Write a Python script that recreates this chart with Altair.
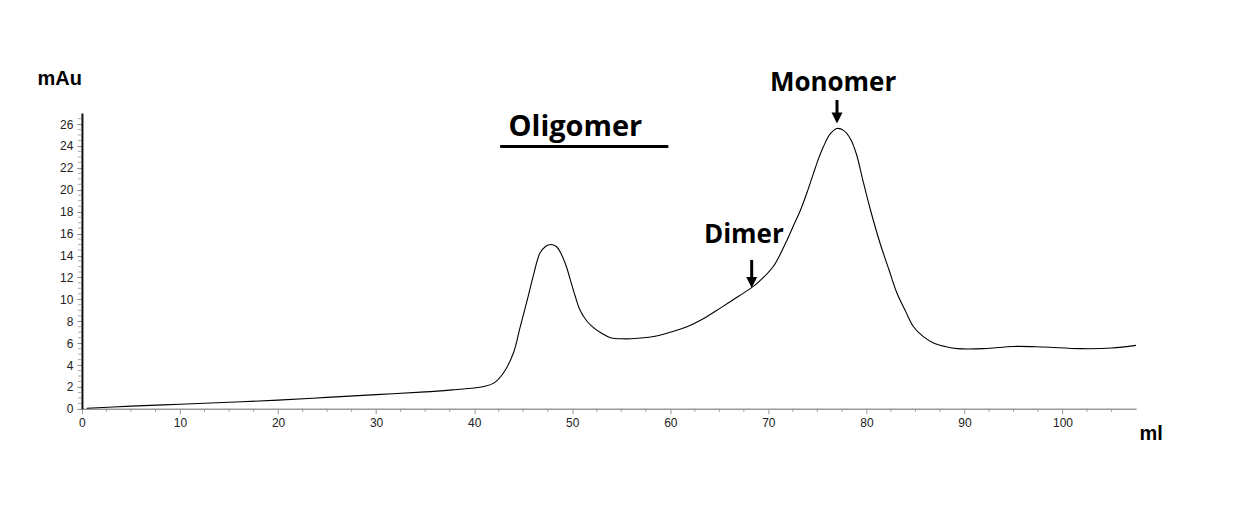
import altair as alt
import pandas as pd

# ---- chromatogram trace ----
volume_ml = [0.5, 5, 10, 15, 20, 25, 30, 35, 38, 40, 41, 42, 43, 44, 44.7, 45.4,
             46.1, 46.7, 47.3, 47.8, 48.4, 48.9, 49.4, 49.8, 50.3, 50.8, 51.5, 52.2,
             53, 53.9, 55, 56, 58.3, 60, 61.7, 63.5, 65.1, 67, 68.5, 69.5, 70.5,
             71.2, 71.9, 72.6, 73.3, 74, 74.6, 75.1, 75.6, 76.3, 77.0, 77.7, 78.4,
             79.0, 79.6, 80.4, 81.4, 82.3, 83.1, 84, 84.8, 85.8, 86.9, 88, 89.3, 92,
             95, 98, 101.8, 105, 107.5]
absorbance_mau = [0.05, 0.25, 0.42, 0.6, 0.8, 1.05, 1.3, 1.55, 1.75, 1.9, 2.05,
                  2.35, 3.3, 5.1, 7.5, 9.9, 12.4, 14.2, 14.85, 15.0, 14.8, 14.1,
                  13.0, 11.8, 10.3, 9.0, 8.0, 7.4, 6.9, 6.5, 6.4, 6.4, 6.6, 7.0,
                  7.5, 8.3, 9.2, 10.3, 11.2, 12.0, 13.0, 14.1, 15.4, 16.8, 18.2,
                  19.9, 21.5, 22.8, 23.9, 25.1, 25.6, 25.4, 24.6, 23.2, 21.0, 18.2,
                  15.1, 12.7, 10.6, 8.9, 7.5, 6.6, 6.0, 5.7, 5.5, 5.5, 5.7, 5.65,
                  5.5, 5.55, 5.8]

# ---- axis ticks ----
x_major = [0, 10, 20, 30, 40, 50, 60, 70, 80, 90, 100]
y_major = [0, 2, 4, 6, 8, 10, 12, 14, 16, 18, 20, 22, 24, 26]
x_minor = [2.5, 5, 7.5, 12.5, 15, 17.5, 22.5, 25, 27.5, 32.5, 35, 37.5, 42.5, 45,
           47.5, 52.5, 55, 57.5, 62.5, 65, 67.5, 72.5, 75, 77.5, 82.5, 85, 87.5,
           92.5, 95, 97.5, 102.5, 105]
y_minor = [i * 0.5 for i in range(1, 54) if i % 4 != 0]

# ---- annotations ----
title_text = ["Oligomer"]
title_x = [43.5]
title_y = [24.9]

peak_text = ["Dimer", "Monomer"]
peak_x = [67.5, 76.6]
peak_y = [15.15, 29.05]

arrow_x = [68.3, 77.0]
arrow_top = [13.6, 28.2]
arrow_head = [11.55, 26.55]

underline_x = [42.65]
underline_x2 = [59.8]
underline_y = [23.95]

FONT = "Liberation Sans"
ANN_FONT = "Open Sans"

trace = pd.DataFrame({"ml": volume_ml, "mau": absorbance_mau})

xscale = alt.Scale(domain=[0, 107.5], nice=False, zero=False)
yscale = alt.Scale(domain=[0, 27], nice=False, zero=False)

x_axis = alt.Axis(values=x_major, title="ml", grid=False, labelFlush=False,
                  labelOverlap=False,
                  domainColor="#9a9a9a", domainWidth=1.5, tickColor="#9a9a9a",
                  tickSize=5, labelFont=FONT, labelFontSize=12, labelColor="#222222",
                  labelPadding=4, titleX=1058, titleY=31, titleAlign="left",
                  titleBaseline="alphabetic", titleFont=FONT, titleFontSize=20,
                  titleFontWeight="bold", titleColor="black")
y_axis = alt.Axis(values=y_major, title="mAu", grid=False, labelFlush=False,
                  labelOverlap=False,
                  domainColor="#111111", domainWidth=2, tickColor="#888888",
                  tickSize=5, labelFont=FONT, labelFontSize=12, labelColor="#222222",
                  labelPadding=4, titleAngle=0, titleX=-45, titleY=-29,
                  titleAlign="left", titleBaseline="alphabetic", titleFont=FONT,
                  titleFontSize=20, titleFontWeight="bold", titleColor="black")


def X(field):
    return alt.X(field, scale=xscale, axis=x_axis)


def Y(field):
    return alt.Y(field, scale=yscale, axis=y_axis)


line = alt.Chart(trace).mark_line(color="black", strokeWidth=1.1,
                                  interpolate="catmull-rom").encode(
    x=X("ml:Q"), y=Y("mau:Q"))

xminor = alt.Chart(pd.DataFrame({"t": x_minor})).mark_rule(
    color="#9a9a9a", strokeWidth=1).encode(
    x=X("t:Q"), y=alt.value(296), y2=alt.value(299))
yminor = alt.Chart(pd.DataFrame({"t": y_minor})).mark_rule(
    color="#aaaaaa", strokeWidth=1).encode(
    y=Y("t:Q"), x=alt.value(-4), x2=alt.value(-1))

title_lbl = alt.Chart(pd.DataFrame({"text": title_text, "x": title_x, "y": title_y})
                      ).mark_text(font=ANN_FONT, fontWeight="bold", color="black",
                                  baseline="alphabetic", align="left",
                                  fontSize=29).encode(
    x=X("x:Q"), y=Y("y:Q"), text="text:N")

peak_lbl = alt.Chart(pd.DataFrame({"text": peak_text, "x": peak_x, "y": peak_y})
                     ).mark_text(font=ANN_FONT, fontWeight="bold", color="black",
                                 baseline="alphabetic", align="center",
                                 fontSize=26).encode(
    x=X("x:Q"), y=Y("y:Q"), text="text:N")

arrows_df = pd.DataFrame({"x": arrow_x, "top": arrow_top, "head": arrow_head})
shafts = alt.Chart(arrows_df).mark_rule(color="black", strokeWidth=3).encode(
    x=X("x:Q"), y=Y("top:Q"), y2="head:Q")
heads = alt.Chart(arrows_df).mark_point(
    shape="M-1,-1L1,-1L0,1Z", filled=True, color="black", opacity=1,
    size=120, strokeWidth=0).encode(
    x=X("x:Q"), y=Y("head:Q"))

underline = alt.Chart(pd.DataFrame({"x": underline_x, "x2": underline_x2,
                                    "y": underline_y})).mark_rule(
    color="black", strokeWidth=3).encode(
    x=X("x:Q"), x2="x2:Q", y=Y("y:Q"))

chart = alt.layer(line, xminor, yminor, title_lbl, peak_lbl, shafts, heads,
                  underline).properties(
    width=1055, height=296,
    autosize=alt.AutoSizeParams(type="none"),
    padding={"left": 74, "top": 105, "right": 100, "bottom": 80},
    background="white",
).configure_view(strokeWidth=0)

chart.save("out.html", embed_options={"renderer": "svg", "actions": False})
